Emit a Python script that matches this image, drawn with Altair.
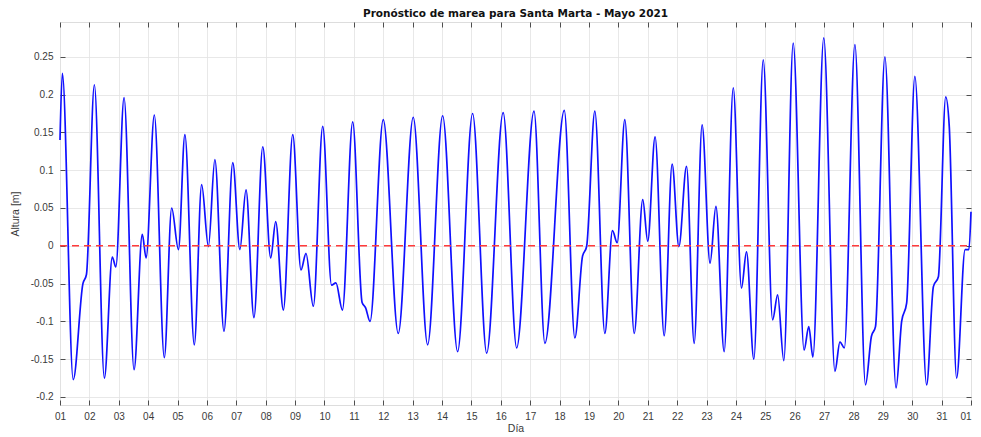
import altair as alt
import pandas as pd

TITLE = "Pronóstico de marea para Santa Marta - Mayo 2021"
X_TITLE = "Día"
Y_TITLE = "Altura [m]"

# time in days since 1 May 2021 00:00, and tide height in metres
day = [
    0.00, 0.08, 0.45, 0.78, 0.90, 1.17, 1.51, 1.78, 1.90, 2.18,
    2.52, 2.80, 2.93, 3.21, 3.55, 3.80, 4.03, 4.25, 4.57, 4.82,
    5.05, 5.27, 5.58, 5.88, 6.12, 6.33, 6.60, 6.90, 7.17, 7.34,
    7.60, 7.92, 8.20, 8.37, 8.62, 8.94, 9.24, 9.39, 9.61, 9.96,
    10.28, 10.40, 10.55, 11.00, 11.51, 12.02, 12.51, 13.02, 13.53, 14.04,
    14.52, 15.08, 15.54, 16.13, 16.50, 17.16, 17.52, 17.78, 17.92, 18.20,
    18.54, 18.80, 18.96, 19.22, 19.54, 19.83, 20.00, 20.25, 20.56, 20.83,
    21.06, 21.32, 21.58, 21.85, 22.12, 22.32, 22.60, 22.91, 23.19, 23.36,
    23.61, 23.93, 24.25, 24.42, 24.63, 24.95, 25.32, 25.48, 25.62, 25.99,
    26.37, 26.54, 26.69, 27.05, 27.41, 27.61, 27.75, 28.07, 28.45, 28.64,
    28.81, 29.09, 29.49, 29.72, 29.89, 30.14, 30.26, 30.51, 30.80, 30.93,
    31.00,
]
height = [
    0.140, 0.228, -0.177, -0.050, -0.038, 0.213, -0.175, -0.015, -0.028, 0.196,
    -0.164, 0.015, -0.016, 0.173, -0.148, 0.050, -0.005, 0.147, -0.131, 0.081,
    -0.001, 0.114, -0.113, 0.110, -0.005, 0.074, -0.095, 0.131, -0.016, 0.032,
    -0.085, 0.147, -0.032, -0.010, -0.080, 0.158, -0.052, -0.049, -0.085, 0.164,
    -0.075, -0.082, -0.100, 0.167, -0.116, 0.170, -0.131, 0.172, -0.140, 0.175,
    -0.142, 0.176, -0.135, 0.178, -0.129, 0.179, -0.122, -0.014, -0.001, 0.178,
    -0.116, 0.020, 0.004, 0.167, -0.116, 0.061, 0.006, 0.144, -0.119, 0.108,
    -0.001, 0.105, -0.129, 0.160, -0.023, 0.052, -0.140, 0.209, -0.056, -0.008,
    -0.150, 0.246, -0.098, -0.065, -0.152, 0.268, -0.138, -0.107, -0.147, 0.275,
    -0.166, -0.127, -0.135, 0.266, -0.184, -0.120, -0.107, 0.250, -0.188, -0.100,
    -0.076, 0.224, -0.184, -0.054, -0.041, 0.197, 0.158, -0.175, -0.005, -0.005,
    0.045,
]

x_domain = [0, 31]
y_domain = [-0.2106, 0.296]
zero_level = [0.0]

x_ticks = list(range(32))
x_tick_labels = [f"{d:02d}" for d in range(1, 32)] + ["01"]
y_ticks = [-0.2, -0.15, -0.1, -0.05, 0, 0.05, 0.1, 0.15, 0.2, 0.25]
y_tick_labels = ["-0.2", "-0.15", "-0.1", "-0.05", "0", "0.05", "0.1", "0.15", "0.2", "0.25"]

FONT = "Liberation Sans"
TITLE_FONT = "DejaVu Sans"
INK = "#262626"
LABEL = "#3a3a3a"
GRID = "#e2e2e2"

line_df = pd.DataFrame({"day": day, "height": height})
zero_df = pd.DataFrame({"x_start": [x_domain[0]], "x_end": [x_domain[1]], "level": zero_level})

x_label_expr = "[" + ",".join(f"'{s}'" for s in x_tick_labels) + "][datum.value]"
y_label_expr = ("[" + ",".join(f"'{s}'" for s in y_tick_labels) + "][indexof(["
                + ",".join(repr(float(v)) for v in y_ticks) + "], datum.value)]")

xs = alt.Scale(domain=x_domain, nice=False, zero=False)
ys = alt.Scale(domain=y_domain, nice=False, zero=False)


def tick_axis(orient, values):
    return alt.Axis(orient=orient, offset=-5, tickSize=5, ticks=True, labels=False,
                    domain=False, grid=False, title=None, values=values,
                    tickColor=INK, tickWidth=0.8)


last_day = x_ticks[-1]

line = alt.Chart(line_df).mark_line(
    interpolate="monotone", color="#1010ff", strokeWidth=1.7
).encode(
    x=alt.X("day:Q", scale=xs, axis=alt.Axis(
        orient="bottom", values=x_ticks, labelExpr=x_label_expr, grid=True,
        gridColor=GRID, gridWidth=0.8, ticks=False, tickSize=0, domain=False,
        labelPadding=6, labelFont=FONT, labelFontSize=10, labelColor=LABEL,
        labelFlush=False, labelOverlap=False,
        labelAlign={"condition": {"test": f"datum.value == {last_day}", "value": "right"},
                    "value": "center"},
        title=X_TITLE, titleFont=FONT, titleFontSize=10.5, titleFontWeight="normal",
        titleColor=LABEL, titlePadding=2)),
    y=alt.Y("height:Q", scale=ys, axis=alt.Axis(
        orient="left", values=y_ticks, labelExpr=y_label_expr, grid=True,
        gridColor=GRID, gridWidth=0.8, ticks=False, tickSize=0, domain=False,
        labelPadding=7, labelFont=FONT, labelFontSize=10, labelColor=LABEL,
        labelFlush=False, labelOverlap=False,
        title=Y_TITLE, titleFont=FONT, titleFontSize=10.5, titleFontWeight="normal",
        titleColor=LABEL, titlePadding=10)),
)

zero = alt.Chart(zero_df).mark_rule(
    color="#ff3b3b", strokeDash=[7, 5], strokeWidth=1.5
).encode(
    x=alt.X("x_start:Q", scale=xs, axis=tick_axis("bottom", x_ticks)),
    x2="x_end:Q",
    y=alt.Y("level:Q", scale=ys, axis=tick_axis("left", y_ticks)),
)

frame_ticks = alt.Chart(zero_df).mark_rule(opacity=0, strokeOpacity=0).encode(
    x=alt.X("x_start:Q", scale=xs, axis=tick_axis("top", x_ticks)),
    x2="x_end:Q",
    y=alt.Y("level:Q", scale=ys, axis=tick_axis("right", y_ticks)),
)

chart = alt.layer(line, zero, frame_ticks).resolve_axis(
    x="independent", y="independent"
).properties(
    width=911,
    height=383,
    padding={"left": 52, "top": 14, "right": 2, "bottom": 30},
    autosize=alt.AutoSizeParams(type="none"),
    title=alt.TitleParams(TITLE, font=TITLE_FONT, fontSize=10.5, fontWeight="bold",
                          color="#111111", anchor="middle", offset=2),
).configure_view(
    stroke=INK, strokeWidth=0.8
).configure(background="white")

chart.save("out.html", embed_options={"renderer": "svg", "actions": False})
